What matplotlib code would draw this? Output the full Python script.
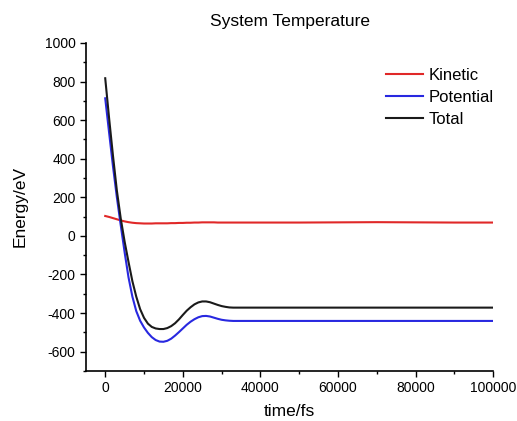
import matplotlib.pyplot as plt
from matplotlib.ticker import MultipleLocator

plt.rcParams['font.family'] = ['Liberation Sans', 'DejaVu Sans']
plt.rcParams['axes.unicode_minus'] = False

# time axis (fs)
time_fs = [0, 1000, 2000, 3000, 4000, 5000, 6000, 7000, 8000, 9000,
           10000, 11000, 12000, 13000, 14000, 15000, 16000, 17000, 18000, 19000,
           20000, 21000, 22000, 23000, 24000, 25000, 26000, 27000, 28000, 29000,
           30000, 31000, 32000, 33000,
           40000, 50000, 60000, 70000, 80000, 90000, 100000]

kinetic = [103, 98, 92, 86, 80, 75, 71, 68, 66, 65,
           64, 64, 64, 65, 65, 65, 65, 66, 66, 67,
           67, 68, 68, 69, 69, 70, 70, 70, 70, 69,
           69, 69, 69, 69,
           69, 69, 70, 71, 70, 69, 69]

potential = [713, 535, 360, 200, 55, -85, -215, -315, -390, -440,
             -475, -503, -525, -540, -548, -549, -544, -533, -517, -499,
             -480, -461, -445, -432, -422, -416, -415, -418, -424, -430,
             -435, -438, -440, -441,
             -441, -441, -441, -441, -441, -441, -441]

total = [817, 610, 415, 235, 90, -30, -135, -235, -315, -380,
         -425, -455, -472, -480, -483, -483, -478, -468, -453, -433,
         -410, -388, -370, -355, -345, -340, -340, -344, -351, -358,
         -364, -368, -371, -372,
         -372, -372, -372, -372, -372, -372, -372]

fig = plt.figure(figsize=(5.17, 4.21), dpi=100)
ax = fig.add_axes([0.166, 0.119, 0.788, 0.779])

ax.plot(time_fs, kinetic, color='#e02828', lw=1.5, label='Kinetic')
ax.plot(time_fs, potential, color='#2828e0', lw=1.5, label='Potential')
ax.plot(time_fs, total, color='#1a1a1a', lw=1.5, label='Total')

ax.set_xlim(-5000, 100000)
ax.set_ylim(-700, 1000)
ax.xaxis.set_major_locator(MultipleLocator(20000))
ax.xaxis.set_minor_locator(MultipleLocator(10000))
ax.yaxis.set_major_locator(MultipleLocator(200))
ax.yaxis.set_minor_locator(MultipleLocator(100))
ax.tick_params(which='major', direction='out', length=4, width=1, labelsize=10)
ax.tick_params(which='minor', direction='out', length=2.5, width=1)

for side in ['top', 'right']:
    ax.spines[side].set_visible(False)
for side in ['left', 'bottom']:
    ax.spines[side].set_linewidth(1.2)

ax.set_xlabel('time/fs', fontsize=12.5, labelpad=6)
ax.set_ylabel('Energy/eV', fontsize=12.5, labelpad=12)
ax.set_title('System Temperature', fontsize=12.5, pad=12)

ax.legend(loc='upper left', bbox_to_anchor=(386 / 517, 1 - 68 / 421),
          bbox_transform=fig.transFigure, frameon=False,
          fontsize=12, handlelength=2.2, handletextpad=0.36, labelspacing=0.42,
          borderpad=0, borderaxespad=0)

fig.savefig('out.png', dpi=100)
